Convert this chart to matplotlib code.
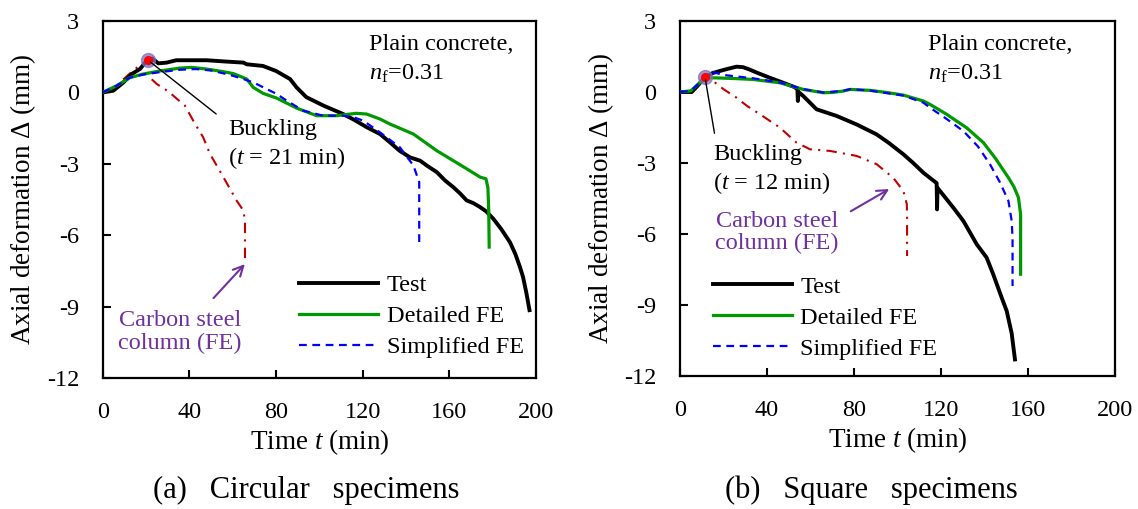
import matplotlib
matplotlib.use("Agg")
import matplotlib.pyplot as plt

plt.rcParams['font.family'] = ['Liberation Serif', 'DejaVu Serif']
plt.rcParams['mathtext.fontset'] = 'custom'
plt.rcParams['mathtext.rm'] = 'Liberation Serif'
plt.rcParams['mathtext.it'] = 'Liberation Serif:italic'
plt.rcParams['mathtext.bf'] = 'Liberation Serif:bold'

# ---------------- (a) Circular specimens ----------------
t_test_a = [0, 4.9, 9.5, 13.4, 17.2, 20.3, 21, 23, 25.7, 29.5, 34, 40, 48, 56, 65, 66.5, 74,
            80, 86.5, 89.5, 94, 102, 111, 116, 122, 128, 132.6, 137, 141.8, 146.5, 150,
            154.2, 158, 161.8, 165, 168, 171, 174.2, 177, 180.3, 184, 188, 190.5, 192.6,
            194, 195.5, 197]
d_test_a = [0, 0.07, 0.41, 0.77, 0.98, 1.32, 1.38, 1.42, 1.22, 1.25, 1.35, 1.35, 1.35, 1.3,
            1.25, 1.18, 1.11, 0.9, 0.56, 0.21, -0.2, -0.56, -0.91, -1.15, -1.47, -1.75,
            -2.1, -2.45, -2.73, -2.87, -3.1, -3.35, -3.7, -3.98, -4.25, -4.54, -4.65, -4.82,
            -5.0, -5.31, -5.75, -6.3, -6.8, -7.34, -7.75, -8.4, -9.15]

t_det_a = [0, 6.5, 12.6, 18.7, 26.4, 35.7, 41, 48, 55, 60.3, 66.5, 69.5, 74, 80.3, 89.5,
           98.8, 108, 117, 121.8, 128, 132.6, 143.4, 154.2, 168, 174.2, 176.9, 177.8,
           178.2, 178.4]
d_det_a = [0, 0.28, 0.62, 0.77, 0.9, 1.02, 1.05, 0.98, 0.88, 0.79, 0.56, 0.21, -0.04, -0.24,
           -0.66, -0.98, -0.98, -0.88, -0.91, -1.12, -1.33, -1.75, -2.45, -3.21, -3.56,
           -3.63, -4.0, -5.0, -6.5]

t_sim_a = [0, 6.5, 12.6, 18.7, 26.4, 35.7, 43, 50, 55.7, 60, 65, 70, 75.7, 80, 85, 92.6,
           101.8, 111, 116, 120.3, 128, 137.2, 143.4, 146.1, 146.1]
d_sim_a = [0, 0.28, 0.62, 0.75, 0.85, 0.95, 0.98, 0.92, 0.8, 0.7, 0.56, 0.4, 0.14, -0.05,
           -0.35, -0.77, -0.98, -0.98, -1.05, -1.19, -1.68, -2.31, -3.07, -3.77, -6.5]

t_cs_a = [0, 4, 8, 12, 16, 19, 21, 21.8, 25, 30.3, 38, 41.8, 46.4, 49.5, 55.7, 61.8, 64.9,
          65.7, 65.7]
d_cs_a = [0, 0.08, 0.41, 0.75, 1.05, 1.25, 1.3, 0.62, 0.35, 0.04, -0.56, -1.19, -1.89,
          -2.58, -3.56, -4.54, -4.96, -5.38, -7.1]

buck_a = (21, 1.35)

# ---------------- (b) Square specimens ----------------
t_test_b = [0, 5.4, 8, 11.5, 15, 18.4, 22, 26, 29, 32, 35.3, 41.4, 47.5, 52.9, 54, 54.2,
            54.5, 56.7, 62.8, 72, 81.2, 90.4, 96, 102.7, 107, 111.9, 118, 118.2, 118.4,
            125.7, 130.3, 136.4, 141, 144, 147.9, 150.2, 152.5, 154]
d_test_b = [0, 0, 0.25, 0.63, 0.8, 0.89, 0.98, 1.07, 1.05, 0.95, 0.82, 0.6, 0.39, 0.2, 0.1,
            -0.38, 0.0, -0.17, -0.73, -1.01, -1.37, -1.79, -2.15, -2.63, -2.98, -3.41,
            -3.85, -4.96, -4.05, -4.89, -5.45, -6.43, -7.0, -7.7, -8.69, -9.25, -10.2, -11.3]

t_det_b = [0, 5, 8, 11.5, 15.3, 25, 33.7, 46, 56.7, 65.9, 70, 75, 78.2, 87.4, 95, 102.7,
           111.9, 114.9, 122.6, 127.2, 131.8, 139.5, 145, 151, 153.5, 155.6, 156.6, 156.6]
d_det_b = [0, 0.05, 0.3, 0.6, 0.6, 0.57, 0.53, 0.39, 0.11, -0.03, -0.02, 0.04, 0.11, 0.07,
           -0.02, -0.13, -0.38, -0.52, -0.94, -1.23, -1.51, -2.14, -2.8, -3.62, -4.0,
           -4.46, -5.17, -7.7]

t_sim_b = [0, 5, 8, 11.5, 15, 20, 33.7, 46, 56.7, 65.9, 75, 78.2, 87.4, 102.7, 111.9,
           114.9, 122, 130.3, 137, 142.5, 147, 151, 152.5, 152.9, 152.9]
d_sim_b = [0, 0.05, 0.3, 0.7, 0.85, 0.72, 0.58, 0.4, 0.12, -0.02, 0.05, 0.12, 0.06, -0.15,
           -0.45, -0.66, -1.1, -1.65, -2.3, -3.05, -3.8, -4.6, -5.45, -6.2, -8.2]

t_cs_b = [0, 4, 8, 11.5, 15.3, 20, 26, 31, 36.8, 46, 53.6, 59.8, 69, 81.2, 90.4, 98, 102.7,
          104.3, 104.4, 104.4]
d_cs_b = [0, 0.02, 0.3, 0.63, 0.46, 0.12, -0.24, -0.6, -0.94, -1.51, -2.14, -2.42, -2.49,
          -2.7, -3.05, -3.62, -4.18, -4.74, -5.3, -6.93]

buck_b = (11.5, 0.63)

x_ticks = [0, 40, 80, 120, 160, 200]
y_ticks = [3, 0, -3, -6, -9, -12]
legend_labels = ['Test', 'Detailed FE', 'Simplified FE']

C_BLACK = 'black'
C_GREEN = '#009A00'
C_BLUE = '#0000FF'
C_RED = '#C00000'
C_PURPLE = '#7030A0'
FS = 17.5
FS_LAB = 19.5

fig = plt.figure(figsize=(11.38, 5.09), dpi=100)
ax_a = fig.add_axes([0.0902, 0.2574, 0.3808, 0.7014])
ax_b = fig.add_axes([0.5975, 0.2613, 0.3823, 0.6974])


def style_axes(ax):
    ax.set_xlim(0, 200)
    ax.set_ylim(-12, 3)
    ax.set_xticks(x_ticks)
    ax.set_yticks(y_ticks)
    ax.set_xticklabels([str(v) for v in x_ticks])
    ax.set_yticklabels([str(v) for v in y_ticks])
    ax.tick_params(direction='in', length=6, width=1.5, labelsize=FS, pad=17)
    for s in ax.spines.values():
        s.set_linewidth(1.6)
    ax.set_xlabel('Time $t$ (min)', fontsize=FS_LAB, labelpad=3)
    ax.set_ylabel('Axial deformation $\\mathit{Δ}$ (mm)', fontsize=FS_LAB, labelpad=6)


def draw(ax, tt, dt, td, dd, ts, ds, tc, dc, buck):
    ax.plot(tc, dc, color=C_RED, lw=1.5, ls=(0, (5, 3, 1, 3)), zorder=3)
    l1, = ax.plot(tt, dt, color=C_BLACK, lw=2.8, zorder=4, label=legend_labels[0])
    l2, = ax.plot(td, dd, color=C_GREEN, lw=2.3, zorder=5, label=legend_labels[1])
    l3, = ax.plot(ts, ds, color=C_BLUE, lw=1.6, ls=(0, (3.5, 2.5)), zorder=6,
                  label=legend_labels[2])
    ax.plot([buck[0]], [buck[1]], 'o', ms=10, color='#8070C0', alpha=0.75, zorder=7)
    ax.plot([buck[0]], [buck[1]], 'o', ms=5.5, color='red', zorder=8)
    return [l1, l2, l3]


leg_kw = dict(loc='upper left', frameon=False, fontsize=FS, handlelength=3.25,
              handletextpad=0.35, labelspacing=0.37, borderpad=0, borderaxespad=0)

# Panel (a)
style_axes(ax_a)
h = draw(ax_a, t_test_a, d_test_a, t_det_a, d_det_a, t_sim_a, d_sim_a, t_cs_a, d_cs_a, buck_a)
ax_a.annotate('', xy=buck_a, xytext=(53.4, -0.98),
              arrowprops=dict(arrowstyle='-', color='black', lw=1.0), zorder=9)
ax_a.text(58, -1.54, 'Buckling', fontsize=FS, ha='left', va='center')
ax_a.text(58, -2.75, '($t$ = 21 min)', fontsize=FS, ha='left', va='center')
ax_a.text(123, 2.02, 'Plain concrete,', fontsize=FS, ha='left', va='center')
ax_a.text(123, 0.77, '$n_\\mathrm{f}$=0.31', fontsize=FS, ha='left', va='center')
ax_a.text(35.7, -10.06, 'Carbon steel\ncolumn (FE)', fontsize=FS, color=C_PURPLE,
          ha='center', va='center', linespacing=1.1)
ax_a.annotate('', xy=(66.5, -7.13), xytext=(50.3, -8.73),
              arrowprops=dict(arrowstyle='->', color=C_PURPLE, lw=1.5, mutation_scale=18))
ax_a.legend(handles=h, bbox_to_anchor=(0.4537, 0.291), **leg_kw)

# Panel (b)
style_axes(ax_b)
h = draw(ax_b, t_test_b, d_test_b, t_det_b, d_det_b, t_sim_b, d_sim_b, t_cs_b, d_cs_b, buck_b)
ax_b.annotate('', xy=buck_b, xytext=(16.1, -1.86),
              arrowprops=dict(arrowstyle='-', color='black', lw=1.0), zorder=9)
ax_b.text(15.3, -2.63, 'Buckling', fontsize=FS, ha='left', va='center')
ax_b.text(15.3, -3.83, '($t$ = 12 min)', fontsize=FS, ha='left', va='center')
ax_b.text(114, 2.02, 'Plain concrete,', fontsize=FS, ha='left', va='center')
ax_b.text(114, 0.77, '$n_\\mathrm{f}$=0.31', fontsize=FS, ha='left', va='center')
ax_b.text(44.7, -5.94, 'Carbon steel\ncolumn (FE)', fontsize=FS, color=C_PURPLE,
          ha='center', va='center', linespacing=1.1)
ax_b.annotate('', xy=(97.3, -4.04), xytext=(77.4, -5.1),
              arrowprops=dict(arrowstyle='->', color=C_PURPLE, lw=1.5, mutation_scale=18))
ax_b.legend(handles=h, bbox_to_anchor=(0.075, 0.282), **leg_kw)

fig.text(306 / 1138, 1 - 490 / 509, '(a)   Circular   specimens', fontsize=22,
         ha='center', va='center')
fig.text(871 / 1138, 1 - 490 / 509, '(b)   Square   specimens', fontsize=22,
         ha='center', va='center')

fig.savefig('out.png', dpi=100)
